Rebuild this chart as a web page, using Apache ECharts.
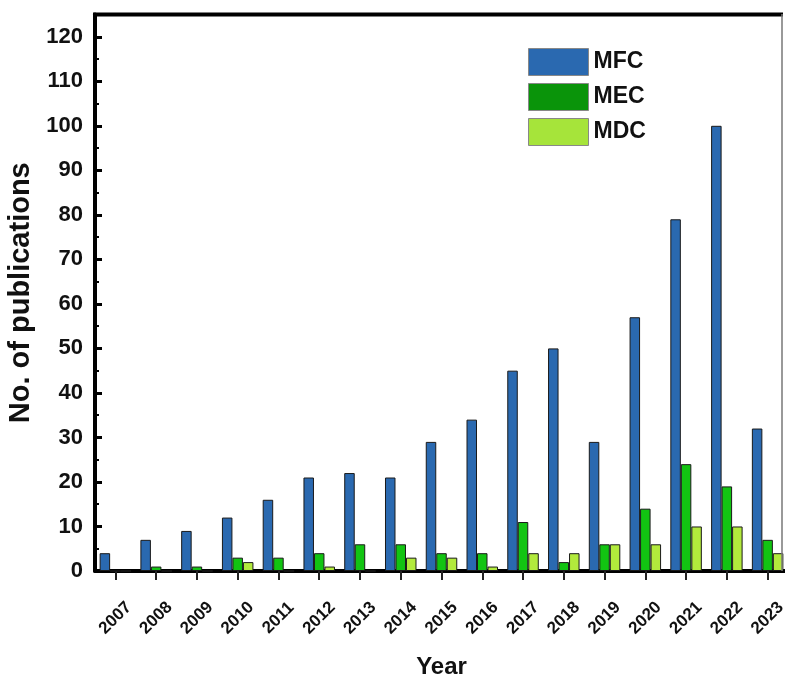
<!DOCTYPE html>
<html>
<head>
<meta charset="utf-8">
<script src="https://cdn.jsdelivr.net/npm/echarts@6/dist/echarts.min.js"></script>
<style>
html,body{margin:0;padding:0;background:#fff;}
#chart{width:785px;height:679px;}
</style>
</head>
<body>
<div id="chart"></div>
<script>
const years = ['2007','2008','2009','2010','2011','2012','2013','2014','2015','2016','2017','2018','2019','2020','2021','2022','2023'];
const mfc = [4, 7, 9, 12, 16, 21, 22, 21, 29, 34, 45, 50, 29, 57, 79, 100, 32];
const mec = [0, 1, 1, 3, 3, 4, 6, 6, 4, 4, 11, 2, 6, 14, 24, 19, 7];
const mdc = [0, 0, 0, 2, 0, 1, 0, 3, 3, 1, 4, 4, 6, 6, 10, 10, 4];
const yTicks = [0, 10, 20, 30, 40, 50, 60, 70, 80, 90, 100, 110, 120];

const chart = echarts.init(document.getElementById('chart'), null, {renderer: 'canvas'});
const FONT = 'Liberation Sans, Arial, sans-serif';
const barStyle = (c) => ({color: c, borderColor: '#1a1a1a', borderWidth: 1});

chart.setOption({
  backgroundColor: '#ffffff',
  animation: false,
  grid: {left: 95, right: -3, top: 14.5, bottom: 108, containLabel: false, outerBoundsMode: 'none'},
  legend: {
    orient: 'vertical', left: 523, top: 43,
    itemWidth: 60, itemHeight: 27, itemGap: 7,
    icon: 'rect',
    textStyle: {fontFamily: FONT, fontWeight: 'bold', fontSize: 23, color: '#111'},
    data: [
      {name: 'MFC', itemStyle: {color: '#2a69b0', borderColor: '#888', borderWidth: 1}},
      {name: 'MEC', itemStyle: {color: '#0a940a', borderColor: '#888', borderWidth: 1}},
      {name: 'MDC', itemStyle: {color: '#a6e43a', borderColor: '#888', borderWidth: 1}}
    ]
  },
  xAxis: {
    type: 'category', data: years,
    name: 'Year', nameLocation: 'middle', nameGap: 84,
    nameTextStyle: {fontFamily: FONT, fontWeight: 'bold', fontSize: 24, color: '#111'},
    axisLine: {show: true, lineStyle: {color: '#000', width: 4}},
    axisTick: {show: true, alignWithLabel: true, inside: false, length: 9, lineStyle: {color: '#222', width: 2}},
    axisLabel: {rotate: 45, align: 'center', verticalAlign: 'middle', margin: 47, interval: 0,
      fontFamily: FONT, fontWeight: 'bold', fontSize: 17, color: '#111'},
    splitLine: {show: false}
  },
  yAxis: {
    type: 'value', min: 0, max: 125, interval: 10,
    name: 'No. of publications', nameLocation: 'middle', nameGap: 49,
    nameTextStyle: {fontFamily: FONT, fontWeight: 'bold', fontSize: 29, color: '#111'},
    axisLine: {show: true, lineStyle: {color: '#000', width: 4}},
    axisTick: {show: true, inside: true, length: 7, lineStyle: {color: '#000', width: 3}},
    minorTick: {show: true, splitNumber: 2, length: 4, lineStyle: {color: '#000', width: 2}},
    axisLabel: {showMaxLabel: false, margin: 12, fontFamily: FONT, fontWeight: 'bold', fontSize: 22, color: '#111',
      formatter: (v) => yTicks.indexOf(v) >= 0 ? String(v) : ''},
    splitLine: {show: false}
  },
  series: [
    {name: 'MFC', type: 'bar', data: mfc, barWidth: 10.5, barGap: '0%', itemStyle: barStyle('#2a69b0')},
    {name: 'MEC', type: 'bar', data: mec, barWidth: 10.5, barGap: '0%', itemStyle: barStyle('#12c412')},
    {name: 'MDC', type: 'bar', data: mdc, barWidth: 10.5, barGap: '0%', itemStyle: barStyle('#b2ea3c')}
  ],
  graphic: [
    {type: 'line', shape: {x1: 93, y1: 14.5, x2: 783, y2: 14.5}, style: {stroke: '#000', lineWidth: 4}, z: 100},
    {type: 'line', shape: {x1: 782, y1: 14, x2: 782, y2: 571}, style: {stroke: '#777', lineWidth: 1.5}, z: 100}
  ]
});
</script>
</body>
</html>
